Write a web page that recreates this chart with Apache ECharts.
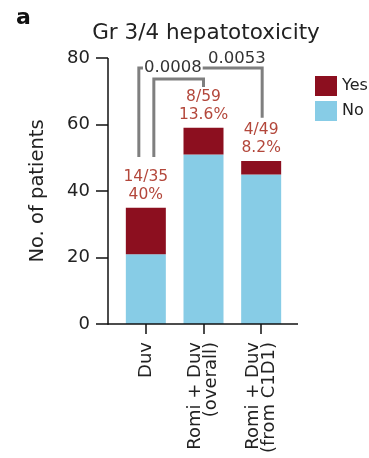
<!DOCTYPE html>
<html>
<head>
<meta charset="utf-8">
<script src="https://cdn.jsdelivr.net/npm/echarts@6/dist/echarts.min.js"></script>
<style>
  html, body { margin: 0; padding: 0; background: #fff; }
  #chart { width: 369px; height: 458px; }
</style>
</head>
<body>
<div id="chart"></div>
<script>
// Grade 3/4 hepatotoxicity by treatment group
const categories = ['Duv', 'Romi + Duv\n(overall)', 'Romi + Duv\n(from C1D1)'];
const yesCounts = [14, 8, 4];
const totals = [35, 59, 49];
const noCounts = [21, 51, 45];
const pctLabels = ['40%', '13.6%', '8.2%'];
const yTicks = [0, 20, 40, 60, 80];

// pairwise comparisons: category indices and p-values
const comparisons = [
  { a: 0, b: 2, p: '0.0008' },
  { a: 0, b: 1, p: '0.0053' }
];

const FONT = '"DejaVu Sans", Verdana, sans-serif';
const RED = '#8c0f1f';
const BLUE = '#87cce6';
const LABEL_RED = '#b3473b';
const GREY = '#7f7f7f';
const INK = '#222';

const chart = echarts.init(document.getElementById('chart'));

const option = {
  animation: false,
  textStyle: { fontFamily: FONT },
  title: [
    { text: 'a', left: 11, top: 2, textStyle: { fontFamily: FONT, fontSize: 22, fontWeight: 'bold', color: '#111' } },
    { text: 'Gr 3/4 hepatotoxicity', left: 201, textAlign: 'center', top: 17, textStyle: { fontFamily: FONT, fontSize: 21.5, fontWeight: 'normal', color: INK } }
  ],
  legend: {
    orient: 'vertical',
    left: 310,
    top: 71,
    icon: 'rect',
    itemWidth: 22,
    itemHeight: 20,
    itemGap: 5,
    textStyle: { fontFamily: FONT, fontSize: 16, color: INK },
    data: ['Yes', 'No']
  },
  grid: { left: 117, right: 79, top: 58, bottom: 134 },
  xAxis: {
    type: 'category',
    data: categories,
    axisLine: { show: false },
    axisTick: { show: true, alignWithLabel: true, length: 10, lineStyle: { color: '#111', width: 1.5 } },
    axisLabel: { rotate: 90, margin: 18, fontSize: 18, lineHeight: 16, color: INK, fontFamily: FONT }
  },
  yAxis: {
    type: 'value',
    min: yTicks[0],
    max: yTicks[yTicks.length - 1],
    interval: yTicks[1] - yTicks[0],
    offset: 9,
    name: 'No. of patients',
    nameLocation: 'middle',
    nameGap: 60,
    nameTextStyle: { fontSize: 19.5, color: INK, fontFamily: FONT },
    splitLine: { show: false },
    axisLine: { show: false },
    axisTick: { show: true, length: 12, lineStyle: { color: '#111', width: 1.5 } },
    axisLabel: { margin: 18, fontSize: 18, color: INK, fontFamily: FONT }
  },
  series: [
    {
      name: 'No', type: 'bar', stack: 'n', barWidth: 40,
      itemStyle: { color: BLUE },
      data: noCounts
    },
    {
      name: 'Yes', type: 'bar', stack: 'n', barWidth: 40,
      itemStyle: { color: RED },
      data: yesCounts,
      label: {
        show: true, position: 'top', distance: 4,
        fontSize: 15.5, lineHeight: 18, color: LABEL_RED, fontFamily: FONT,
        formatter: p => yesCounts[p.dataIndex] + '/' + totals[p.dataIndex] + '\n' + pctLabels[p.dataIndex]
      }
    }
  ]
};
chart.setOption(option);

// axis lines: y axis sits 9px left of the plot, x axis runs from it past the last bar
const px = (i, v) => chart.convertToPixel({ xAxisIndex: 0, yAxisIndex: 0 }, [i, v]);
const y0 = px(0, yTicks[0])[1];
const yTop = px(0, yTicks[yTicks.length - 1])[1];
const gridRect = chart.getModel().getComponent('grid').coordinateSystem.getRect();
const axisX = gridRect.x - 9;

const gfx = [
  { type: 'line', shape: { x1: axisX, y1: y0, x2: gridRect.x + gridRect.width + 8, y2: y0 },
    style: { stroke: '#111', lineWidth: 1.5 }, z: 10 },
  { type: 'line', shape: { x1: axisX, y1: y0 + 0.75, x2: axisX, y2: yTop },
    style: { stroke: '#111', lineWidth: 1.5 }, z: 10 }
];

// significance brackets (heights in data units, leg x offsets in px from bar centre)
const bracketLayout = [
  { top: 77, legA: 50.2, legB: 62, dxA: -7, dxB: 1 },
  { top: 73.7, legA: 50.2, legB: 71.3, dxA: 8, dxB: 0 }
];
comparisons.forEach((c, k) => {
  const L = bracketLayout[k];
  const xa = px(c.a, 0)[0] + L.dxA;
  const xb = px(c.b, 0)[0] + L.dxB;
  const yt = px(0, L.top)[1];
  const ya = px(0, L.legA)[1];
  const yb = px(0, L.legB)[1];
  gfx.push({
    type: 'polyline',
    shape: { points: [[xa, ya], [xa, yt], [xb, yt], [xb, yb]] },
    style: { stroke: GREY, lineWidth: 3, fill: null }, z: 5
  });
});
// p-value labels: the first breaks the outer bracket's top line, the second sits above it
{
  const c0 = comparisons[0], c1 = comparisons[1];
  const yt0 = px(0, bracketLayout[0].top)[1];
  const xa0 = px(c0.a, 0)[0] + bracketLayout[0].dxA;
  gfx.push({
    type: 'text', x: xa0 + 34, y: yt0, z: 20,
    style: { text: c0.p, fontSize: 16.5, fontFamily: FONT, fill: '#333',
      align: 'center', verticalAlign: 'middle',
      backgroundColor: '#fff', padding: [0, 1] }
  });
  gfx.push({
    type: 'text', x: xa0 + 98, y: yt0 - 9, z: 20,
    style: { text: c1.p, fontSize: 16.5, fontFamily: FONT, fill: '#333',
      align: 'center', verticalAlign: 'middle' }
  });
}
chart.setOption({ graphic: gfx });
</script>
</body>
</html>
